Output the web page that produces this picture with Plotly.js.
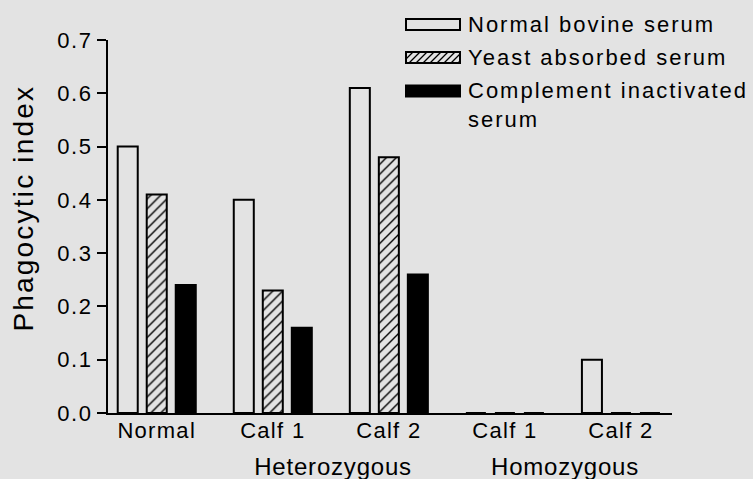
<!DOCTYPE html>
<html>
<head>
<meta charset="utf-8">
<script src="https://cdn.plot.ly/plotly-3.0.1.min.js"></script>
<style>
  html, body { margin: 0; padding: 0; background: #e3e3e3; }
  #chart { width: 753px; height: 479px; }
  .ytick text { letter-spacing: 1.6px; }
  .xtick text { letter-spacing: 1.3px; }
</style>
</head>
<body>
<div id="chart"></div>
<script>
// ---- data ----
const categories = ['Normal', 'Calf 1', 'Calf 2', 'Calf 1', 'Calf 2'];
const groupNames = ['Heterozygous', 'Homozygous'];
const groupMembers = [[1, 2], [3, 4]];
const seriesNames = ['Normal bovine serum', 'Yeast absorbed serum', 'Complement inactivated<br>serum'];
const normalBovine = [0.50, 0.40, 0.61, 0, 0.10];
const yeastAbsorbed = [0.41, 0.23, 0.48, 0, 0];
const complementInactivated = [0.24, 0.16, 0.26, 0, 0];
const yTicks = [0, 0.1, 0.2, 0.3, 0.4, 0.5, 0.6, 0.7];

// ---- layout constants ----
const BG = '#e3e3e3';
const W = 753, H = 479, L = 108, R = 81, T = 40, B = 66;
const px2x = px => (px - L) / (W - L - R);
const py2y = py => (H - B - py) / (H - T - B);
const FONT = 'Liberation Sans, Arial, Helvetica, sans-serif';

const xIdx = categories.map((c, i) => i);
const lineStyle = { color: 'black', width: 2 };

const traces = [
  { type: 'bar', x: xIdx, y: normalBovine, name: seriesNames[0],
    marker: { color: 'rgba(0,0,0,0)', line: lineStyle } },
  { type: 'bar', x: xIdx, y: yeastAbsorbed, name: seriesNames[1],
    marker: { color: BG, line: lineStyle,
      pattern: { shape: '/', size: 7, solidity: 0.2, fgcolor: 'black', bgcolor: BG } } },
  { type: 'bar', x: xIdx, y: complementInactivated, name: seriesNames[2],
    marker: { color: 'black', line: lineStyle } }
];

// ---- custom legend (swatches + text) ----
const swX0 = 406, swX1 = 460, swH = 11;
const rowCenters = [24.5, 57.5, 91];
const shapes = [];
const annotations = [];
const annSpacing = [];
const kinds = ['open', 'hatch', 'solid'];
kinds.forEach((k, i) => {
  const yc = rowCenters[i];
  const y0 = yc - swH / 2, y1 = yc + swH / 2;
  if (k === 'hatch') {
    let d = '';
    for (let s = swX0 - swH; s < swX1; s += 7) {
      let xa = s, ya = y1, xb = s + swH, yb = y0;
      if (xa < swX0) { ya = y1 - (swX0 - xa); xa = swX0; }
      if (xb > swX1) { yb = y0 + (xb - swX1); xb = swX1; }
      if (xb <= xa) continue;
      d += `M${px2x(xa)},${py2y(ya)}L${px2x(xb)},${py2y(yb)}`;
    }
    shapes.push({ type: 'path', xref: 'paper', yref: 'paper', path: d,
      line: { color: 'black', width: 1.3 } });
  }
  shapes.push({ type: 'rect', xref: 'paper', yref: 'paper',
    x0: px2x(swX0), x1: px2x(swX1), y0: py2y(y1), y1: py2y(y0),
    fillcolor: k === 'solid' ? 'black' : 'rgba(0,0,0,0)',
    line: { color: 'black', width: 2 } });
  const multi = seriesNames[i].indexOf('<br>') >= 0;
  annotations.push({ xref: 'paper', yref: 'paper', x: px2x(466), y: py2y(multi ? yc + 13.5 : yc),
    xanchor: 'left', yanchor: 'middle', align: 'left', showarrow: false,
    text: seriesNames[i], font: { family: FONT, size: 22, color: 'black' } });
  annSpacing.push('2px');
});

// group labels
groupNames.forEach((g, i) => {
  const m = groupMembers[i];
  annotations.push({ xref: 'x', yref: 'paper', x: (m[0] + m[1]) / 2 + 0.02, y: py2y(466),
    xanchor: 'center', yanchor: 'middle', showarrow: false, text: g,
    font: { family: FONT, size: 24, color: 'black' } });
  annSpacing.push('0.8px');
});

// y-axis title
annotations.push({ xref: 'paper', yref: 'paper', x: px2x(23), y: py2y(208),
  xanchor: 'center', yanchor: 'middle', textangle: -90, showarrow: false,
  text: 'Phagocytic index', font: { family: FONT, size: 28, color: 'black' } });
annSpacing.push('2.2px');

const layout = {
  width: W, height: H,
  margin: { l: L, r: R, t: T, b: B, pad: 0 },
  paper_bgcolor: BG, plot_bgcolor: BG,
  font: { family: FONT, color: 'black', size: 22 },
  showlegend: false,
  barmode: 'group', bargap: 0.25, bargroupgap: 0.31,
  xaxis: {
    range: [-0.42, 4.44], tickmode: 'array', tickvals: xIdx, ticktext: categories,
    showline: true, linecolor: 'black', linewidth: 2, ticks: '', showgrid: false, zeroline: false,
    ticklabelstandoff: -3,
    tickfont: { family: FONT, size: 22, color: 'black' }, fixedrange: true
  },
  yaxis: {
    range: [0, 0.7], tickmode: 'array', tickvals: yTicks, ticktext: yTicks.map(v => v.toFixed(1)),
    showline: true, linecolor: 'black', linewidth: 2, ticks: 'outside', ticklen: 9, tickwidth: 2,
    tickcolor: 'black', showgrid: false, zeroline: false,
    tickfont: { family: FONT, size: 22, color: 'black' }, fixedrange: true
  },
  shapes: shapes,
  annotations: annotations
};

Plotly.newPlot('chart', traces, layout, { displayModeBar: false, staticPlot: true }).then(gd => {
  gd.querySelectorAll('.annotation').forEach(el => {
    const idx = +el.getAttribute('data-index');
    const t = el.querySelector('.annotation-text');
    if (t && annSpacing[idx]) t.style.letterSpacing = annSpacing[idx];
  });
});
</script>
</body>
</html>
